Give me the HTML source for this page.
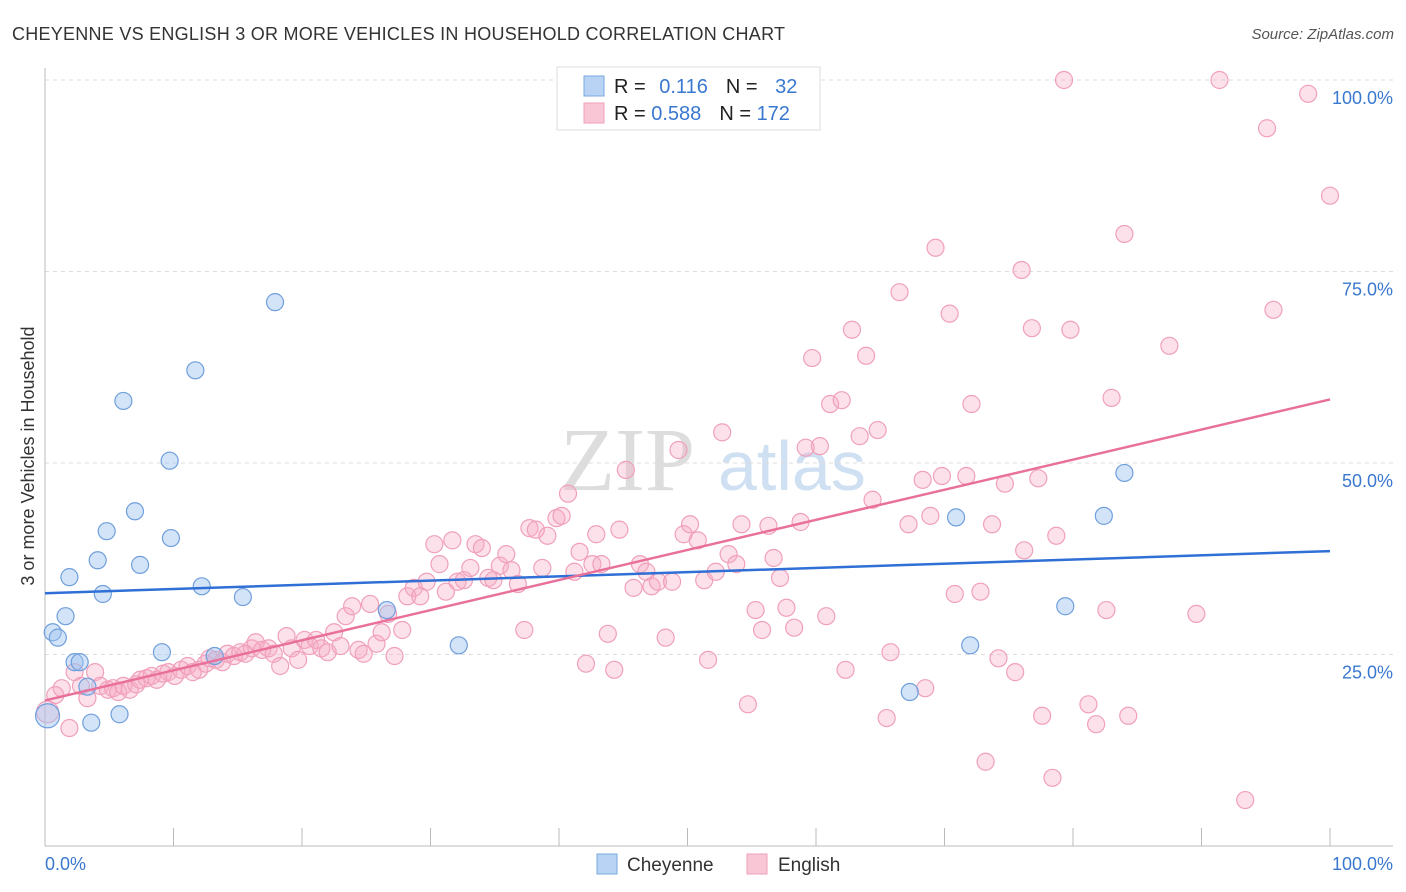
<!DOCTYPE html>
<html><head><meta charset="utf-8"><style>
body{margin:0;background:#fff;font-family:"Liberation Sans",sans-serif}
#c{position:relative;width:1406px;height:892px;overflow:hidden}
</style></head><body>
<div id="c">
<svg id="s" width="1406" height="892" xmlns="http://www.w3.org/2000/svg">
<text x="12" y="40" font-size="18" fill="#333" textLength="773">CHEYENNE VS ENGLISH 3 OR MORE VEHICLES IN HOUSEHOLD CORRELATION CHART</text>
<text x="1394" y="39" font-size="15" fill="#555" font-style="italic" text-anchor="end">Source: ZipAtlas.com</text>
<text x="34" y="456" font-size="18" fill="#333" text-anchor="middle" transform="rotate(-90 34 456)">3 or more Vehicles in Household</text>
<text x="560" y="490" font-size="90" fill="#ddd" font-family="Liberation Serif">ZIP</text>
<text x="718" y="490" font-size="70" fill="#cfe0f3">atlas</text>
<g id="grid"></g><g id="pts"></g><g id="lines"></g>
<rect x="557" y="67" width="263" height="63" fill="#fff" stroke="#ddd"/>
<rect x="584" y="76" width="20" height="20" fill="#b9d3f5" stroke="#7aa8e0"/>
<rect x="584" y="103" width="20" height="20" fill="#f9c6d5" stroke="#f0a0bb"/>
<text x="614" y="93" font-size="20" fill="#222">R = <tspan fill="#3a78d0" dx="8">0.116</tspan><tspan dx="18" fill="#222">N = </tspan><tspan fill="#3a78d0" dx="12">32</tspan></text>
<text x="614" y="120" font-size="20" fill="#222">R = <tspan fill="#3a78d0">0.588</tspan><tspan dx="18" fill="#222">N = </tspan><tspan fill="#3a78d0">172</tspan></text>
<rect x="597" y="854" width="20" height="20" fill="#b9d3f5" stroke="#7aa8e0"/>
<text x="627" y="871" font-size="19" fill="#333">Cheyenne</text>
<rect x="747" y="854" width="20" height="20" fill="#f9c6d5" stroke="#f0a0bb"/>
<text x="778" y="871" font-size="19" fill="#333">English</text>
</svg></div>
<script>
const yTicks=[25,50,75,100];
const yTickLabels=["25.0%","50.0%","75.0%","100.0%"];
const xTickLabels=["0.0%","100.0%"];
const blueX=[0.2,0.6,1.0,1.6,1.9,2.3,2.7,3.3,3.6,4.1,4.5,4.8,5.8,6.1,7.0,7.4,9.1,9.7,9.8,11.7,12.2,13.2,15.4,17.9,26.6,32.2,67.3,70.9,72,79.4,82.4,84];
const blueY=[17,27.9,27.2,30,35.1,24,24,20.8,16.1,37.3,32.9,41.1,17.2,58.1,43.7,36.7,25.3,50.3,40.2,62.1,33.9,24.8,32.5,71,30.8,26.2,20.1,42.9,26.2,31.3,43.1,48.7];
const pinkX=[0.2,0.8,1.3,1.9,2.3,2.8,3.3,3.9,4.3,4.9,5.3,5.7,6.1,6.6,7.1,7.4,7.9,8.3,8.7,9.2,9.6,10.1,10.6,11.1,11.5,12,12.5,12.8,13.3,13.8,14.2,14.7,15.2,15.6,16.1,16.4,16.9,17.4,17.8,18.3,18.8,19.2,19.7,20.2,20.6,21.1,21.5,22,22.5,23,23.4,23.9,24.4,24.8,25.3,25.8,26.2,26.7,27.2,27.8,28.2,28.7,29.2,29.7,30.3,30.7,31.2,31.7,32.1,32.6,33.1,33.5,34,34.5,34.9,35.4,35.9,36.3,36.8,37.3,37.7,38.2,38.7,39.1,39.8,40.2,40.7,41.2,41.6,42.1,42.6,42.9,43.3,43.8,44.3,44.7,45.2,45.8,46.3,46.8,47.2,47.7,48.3,48.8,49.3,49.7,50.2,50.8,51.3,51.6,52.2,52.7,53.2,53.8,54.2,54.7,55.3,55.8,56.3,56.7,57.2,57.7,58.3,58.8,59.2,59.7,60.3,60.8,61.1,62,62.3,62.8,63.4,63.9,64.4,64.8,65.5,65.8,66.5,67.2,68.3,68.5,68.9,69.3,69.8,70.4,70.8,71.7,72.1,72.8,73.2,73.7,74.2,74.7,75.5,76,76.2,76.8,77.6,77.3,78.4,78.7,79.3,79.8,81.2,81.8,82.6,83,84,84.3,87.5,89.6,91.4,93.4,95.1,95.6,98.3,100];
const pinkY=[17.5,19.7,20.6,15.4,22.7,20.9,19.3,22.7,20.9,20.4,20.6,20.1,20.9,20.4,21.1,21.7,21.9,22.2,21.7,22.5,22.7,22.2,23,23.5,22.7,23,23.8,24.5,24.3,24,25.1,24.8,25.3,25.1,25.8,26.6,25.6,25.8,25.1,23.5,27.4,25.8,24.3,26.9,26.1,26.9,25.8,25.3,27.9,26.1,30,31.3,25.6,25.1,31.6,26.4,27.9,30.3,24.8,28.2,32.6,33.7,32.6,34.5,39.4,36.8,33.2,39.9,34.5,34.7,36.3,39.4,38.9,35,34.7,36.6,38.1,36,34.2,28.2,41.5,41.3,36.3,40.5,42.8,43.1,46,35.8,38.4,23.8,36.8,40.7,36.8,27.7,23,41.3,49.1,33.7,36.8,35.8,33.9,34.5,27.2,34.5,51.7,40.7,42,39.9,34.7,24.3,35.8,54,38.1,36.8,42,18.5,30.8,28.2,41.8,37.6,35,31.1,28.5,42.3,52,63.7,52.2,30,57.7,58.2,23,67.4,53.5,64,45.2,54.3,16.7,25.3,72.3,42,47.8,20.6,43.1,78.1,48.3,69.5,32.9,48.3,57.7,33.2,11,42,24.5,47.3,22.7,75.2,38.6,67.6,17,48,8.9,40.5,100,67.4,18.5,15.9,30.8,58.5,79.9,17,65.3,30.3,100,6,93.7,70,98.2,84.9];
const blueLine=[33,38.5];
const pinkLine=[19,58.3];
const NS="http://www.w3.org/2000/svg";
const X0=45,X1=1330,Y0=846,Y100=80;
const sx=v=>X0+(X1-X0)*v/100, sy=v=>Y0-(Y0-Y100)*v/100;
function mk(t,a,p){const e=document.createElementNS(NS,t);for(const k in a)e.setAttribute(k,a[k]);p.appendChild(e);return e;}
const g=document.getElementById('grid');
yTicks.forEach((t,i)=>{
 const l=mk('line',{x1:X0,x2:1393,y1:sy(t),y2:sy(t),stroke:'#ddd','stroke-dasharray':'4 4'},g);
 
 
 const tx=mk('text',{x:1393,y:sy(t)+24,'font-size':18,fill:'#3a78d0','text-anchor':'end'},g);
 tx.textContent=yTickLabels[i];
 
 
});
const ax=mk('line',{x1:X0,x2:1393,y1:Y0,y2:Y0,stroke:'#bbb'},g);


const ay=mk('line',{x1:X0,x2:X0,y1:68,y2:Y0,stroke:'#bbb'},g);


for(let i=0;i<=10;i++){const t=mk('line',{x1:sx(i*10),x2:sx(i*10),y1:Y0-18,y2:Y0,stroke:'#bbb'},g);
 
 }
[[0,'start',45],[100,'end',1393]].forEach((d,i)=>{const t=mk('text',{x:d[2],y:870,'font-size':18,fill:'#3a78d0','text-anchor':d[1]},g);t.textContent=xTickLabels[i];
 
 });
const p=document.getElementById('pts');
pinkX.forEach((x,i)=>{const c=mk('circle',{cx:sx(x),cy:sy(pinkY[i]),r:i==0?11:8.5,fill:'rgba(246,170,196,0.35)',stroke:'#f0a0bb','stroke-width':1.2},p);
 
 });
blueX.forEach((x,i)=>{const c=mk('circle',{cx:sx(x),cy:sy(blueY[i]),r:i==0?12:8.5,fill:'rgba(160,195,240,0.45)',stroke:'#6f9fdc','stroke-width':1.2},p);
 
 });
const L=document.getElementById('lines');
const bl=mk('line',{x1:sx(0),x2:sx(100),y1:sy(blueLine[0]),y2:sy(blueLine[1]),stroke:'#2f6fd6','stroke-width':2.5},L);


const pl=mk('line',{x1:sx(0),x2:sx(100),y1:sy(pinkLine[0]),y2:sy(pinkLine[1]),stroke:'#e8709a','stroke-width':2.5},L);


</script>
</body></html>
